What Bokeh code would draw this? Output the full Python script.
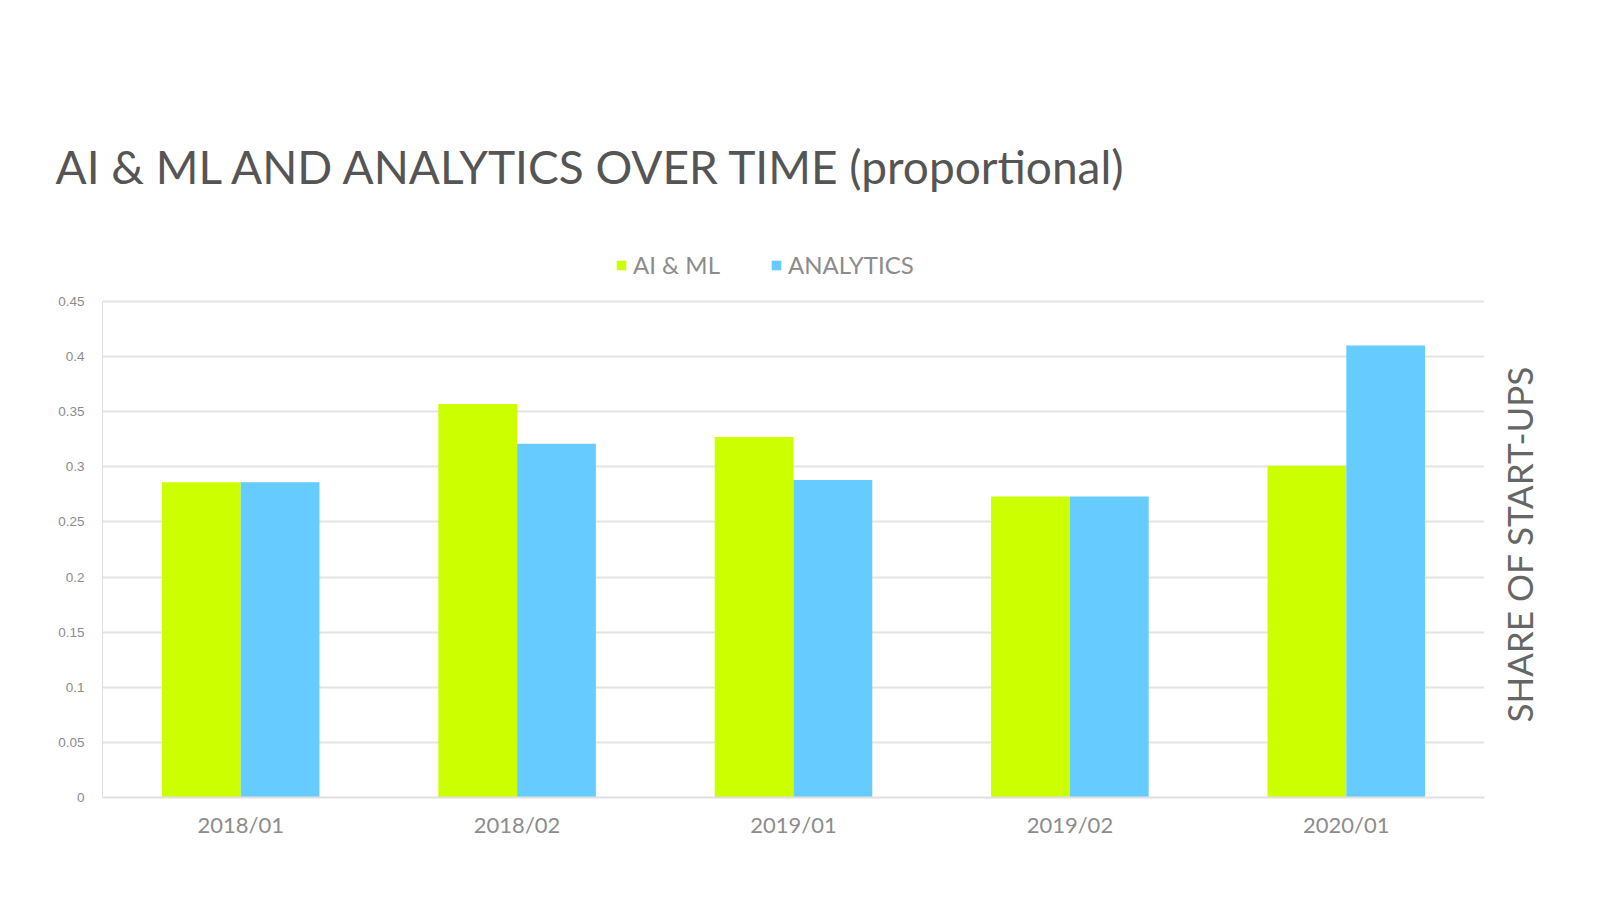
import math
from bokeh.plotting import figure
from bokeh.models import (FactorRange, Range1d, FixedTicker, NumeralTickFormatter,
                          Legend, LegendItem, ColumnDataSource, LinearAxis, Title)
from bokeh.transform import dodge
from bokeh.embed import file_html
from bokeh.resources import INLINE

# ---- data ----
periods = ["2018/01", "2018/02", "2019/01", "2019/02", "2020/01"]
ai_ml = [0.286, 0.357, 0.327, 0.273, 0.301]
analytics = [0.286, 0.321, 0.288, 0.273, 0.410]
y_ticks = [0, 0.05, 0.1, 0.15, 0.2, 0.25, 0.3, 0.35, 0.4, 0.45]
series_names = ["AI & ML", "ANALYTICS"]
title_text = "AI & ML AND ANALYTICS OVER TIME (proportional)"
axis_title = "SHARE OF START-UPS"

GREEN = "#CCFF00"
BLUE = "#66CCFF"
GRAY = "#8c8c8c"

src = ColumnDataSource(dict(period=periods, ai=ai_ml, an=analytics))

p = figure(width=1600, height=900, output_backend="svg", toolbar_location=None,
           title=None,
           x_range=FactorRange(*periods, range_padding=0), y_range=Range1d(0, 0.4963),
           min_border_left=102, min_border_right=116, min_border_top=250,
           min_border_bottom=103, background_fill_color="white",
           border_fill_color="white", outline_line_color=None)

r1 = p.vbar(x=dodge("period", -0.1425, range=p.x_range), top="ai", width=0.285,
            source=src, fill_color=GREEN, line_color=None)
r2 = p.vbar(x=dodge("period", 0.1425, range=p.x_range), top="an", width=0.285,
            source=src, fill_color=BLUE, line_color=None)

# axes
p.yaxis.ticker = FixedTicker(ticks=y_ticks)
p.yaxis.bounds = (0, 0.45)
p.yaxis.formatter = NumeralTickFormatter(format="0.[00]")
p.yaxis.major_tick_line_color = None
p.yaxis.minor_tick_line_color = None
p.yaxis.axis_line_color = "#e0e0e0"
p.yaxis.axis_line_width = 1
p.yaxis.major_label_text_font = "Liberation Sans"
p.yaxis.major_label_text_font_size = "13.5px"
p.yaxis.major_label_text_color = GRAY
p.yaxis.major_label_standoff = 12

p.xaxis.major_tick_line_color = None
p.xaxis.minor_tick_line_color = None
p.xaxis.axis_line_color = "#e0e0e0"
p.xaxis.axis_line_width = 2
p.xaxis.major_label_text_font = "Lato"
p.xaxis.major_label_text_font_size = "22px"
p.xaxis.major_label_text_color = GRAY
p.xaxis.major_label_standoff = 7

p.xgrid.grid_line_color = None
p.ygrid.grid_line_color = "#e4e4e4"
p.ygrid.grid_line_width = 2

# legend (inside the top strip of the frame, above the 0.45 line)
legend = Legend(items=[LegendItem(label=series_names[0], renderers=[r1]),
                       LegendItem(label=series_names[1], renderers=[r2])],
                orientation="horizontal", location=(513, 518),
                border_line_color=None, background_fill_alpha=0, padding=0, margin=0,
                glyph_width=12, glyph_height=12, label_standoff=6,
                label_text_font="Lato", label_text_font_size="24px",
                label_text_color=GRAY, spacing=50)
p.add_layout(legend)

# chart title
main_title = Title(text=title_text, align="left", offset=-47, standoff=114,
                   text_font="Lato", text_font_size="46px", text_font_style="normal",
                   text_color="#555555")
p.add_layout(main_title, "above")

# right-hand side: axis title written as a rotated label of a bare right axis
label_pos = 0.068
rax = LinearAxis(ticker=FixedTicker(ticks=[label_pos]),
                 major_label_overrides={label_pos: axis_title},
                 major_label_orientation=math.pi / 2,
                 axis_line_color=None, major_tick_line_color=None,
                 minor_tick_line_color=None,
                 major_label_text_font="Lato", major_label_text_font_size="35px",
                 major_label_text_color="#666666", major_label_standoff=29)
p.add_layout(rax, "right")

open("out.html", "w").write(file_html(p, INLINE))
